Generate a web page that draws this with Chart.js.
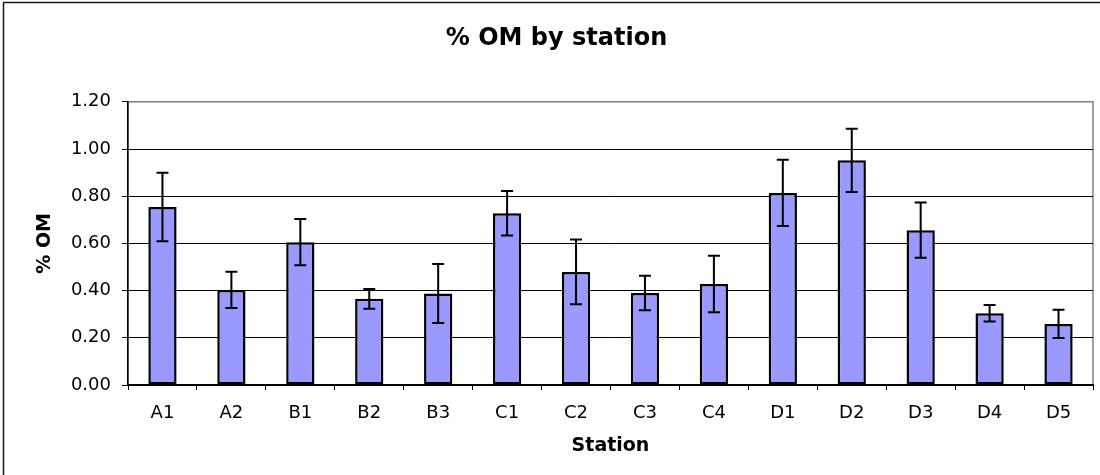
<!DOCTYPE html>
<html>
<head>
<meta charset="utf-8">
<script src="https://cdn.jsdelivr.net/npm/chart.js@4/dist/chart.umd.min.js"></script>
<style>
  html, body { margin: 0; padding: 0; background: #fff; }
  #wrap { width: 1100px; height: 475px; position: relative; }
</style>
</head>
<body>
<div id="wrap"><canvas id="c" width="1100" height="475"></canvas></div>
<script>
const stations = ['A1','A2','B1','B2','B3','C1','C2','C3','C4','D1','D2','D3','D4','D5'];
const omMean = [0.754, 0.403, 0.605, 0.365, 0.388, 0.728, 0.479, 0.390, 0.428, 0.814, 0.952, 0.656, 0.304, 0.259];
const omErr  = [0.145, 0.077, 0.098, 0.042, 0.125, 0.094, 0.137, 0.073, 0.120, 0.140, 0.134, 0.117, 0.035, 0.060];
const yTickValues = [0, 0.2, 0.4, 0.6, 0.8, 1.0, 1.2];

const FONT = "'DejaVu Sans', 'Liberation Sans', Arial, sans-serif";

const framePlugin = {
  id: 'frame',
  beforeDraw(chart) {
    const ctx = chart.ctx;
    ctx.save();
    ctx.fillStyle = '#fff';
    ctx.fillRect(0, 0, chart.width, chart.height);
    ctx.strokeStyle = '#1a1a1a';
    ctx.lineWidth = 1.5;
    ctx.beginPath();
    ctx.moveTo(3.5, chart.height);
    ctx.lineTo(3.5, 2.5);
    ctx.lineTo(chart.width, 2.5);
    ctx.stroke();
    const a = chart.chartArea;
    ctx.strokeStyle = '#808080';
    ctx.lineWidth = 1.5;
    ctx.strokeRect(a.left, a.top, a.right - a.left, a.bottom - a.top);
    ctx.restore();
  }
};

const errorBarPlugin = {
  id: 'errorBars',
  afterDatasetsDraw(chart) {
    const ctx = chart.ctx;
    const xs = chart.scales.x, ys = chart.scales.y;
    ctx.save();
    ctx.strokeStyle = '#000';
    ctx.lineWidth = 2;
    omMean.forEach((v, i) => {
      const x = xs.getPixelForValue(i);
      const yTop = ys.getPixelForValue(v + omErr[i]);
      const yBot = ys.getPixelForValue(v - omErr[i]);
      ctx.beginPath();
      ctx.moveTo(x, yTop); ctx.lineTo(x, yBot);
      ctx.moveTo(x - 6, yTop); ctx.lineTo(x + 6, yTop);
      ctx.moveTo(x - 6, yBot); ctx.lineTo(x + 6, yBot);
      ctx.stroke();
    });
    ctx.restore();
  }
};

new Chart(document.getElementById('c'), {
  type: 'bar',
  data: {
    labels: stations,
    datasets: [{
      label: '% OM',
      data: omMean,
      backgroundColor: '#9999FF',
      borderColor: '#000',
      borderWidth: 2.5,
      borderSkipped: false,
      barPercentage: 0.41,
      categoryPercentage: 1.0
    }]
  },
  options: {
    responsive: false,
    animation: false,
    devicePixelRatio: 1,
    layout: { padding: { top: 0, left: 20, right: 7, bottom: 0 } },
    plugins: {
      legend: { display: false },
      tooltip: { enabled: false },
      title: {
        display: true,
        text: '% OM by station',
        color: '#000',
        font: { family: FONT, size: 24, weight: 'bold' },
        padding: { top: 24, bottom: 49 }
      }
    },
    scales: {
      x: {
        afterFit(scale) { scale.height = 90; },
        grid: { offset: true, drawOnChartArea: false, drawTicks: true, tickLength: 5, tickColor: '#000', tickWidth: 1 },
        border: { display: true, color: '#000', width: 1.5 },
        ticks: { color: '#000', font: { family: FONT, size: 18 }, padding: 13, maxRotation: 0, autoSkip: false },
        title: {
          display: true,
          text: 'Station',
          color: '#000',
          font: { family: FONT, size: 19, weight: 'bold' },
          padding: { top: 0, bottom: 18 }
        }
      },
      y: {
        min: 0,
        max: 1.2,
        afterFit(scale) { scale.width = 108; },
        afterBuildTicks(scale) { scale.ticks = yTickValues.map(v => ({ value: v })); },
        grid: {
          color: (c) => (c.tick && c.tick.value >= 1.2) ? '#808080' : '#000',
          lineWidth: 1,
          drawTicks: true,
          tickLength: 6,
          tickColor: '#000'
        },
        border: { display: true, color: '#000', width: 1.5 },
        ticks: {
          color: '#000',
          font: { family: FONT, size: 18 },
          padding: 11,
          callback: (v) => Number(v).toFixed(2)
        },
        title: {
          display: true,
          text: '% OM',
          color: '#000',
          font: { family: FONT, size: 19, weight: 'bold' },
          padding: { top: 14, bottom: 0 }
        }
      }
    }
  },
  plugins: [framePlugin, errorBarPlugin]
});
</script>
</body>
</html>
